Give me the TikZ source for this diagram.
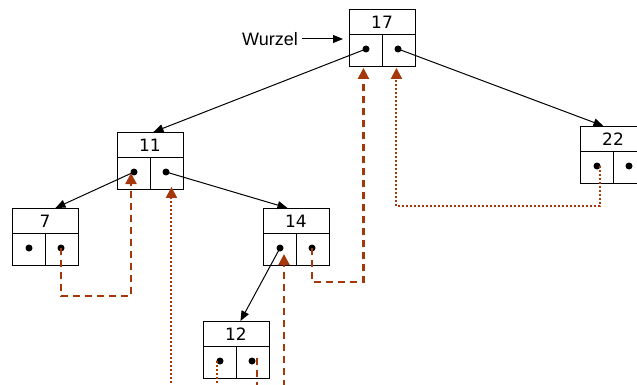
\documentclass[tikz,border=0pt]{standalone}
\usepackage{fontspec}
\setmainfont{DejaVu Sans}
\newfontfamily\labelfont{Liberation Sans}
\usetikzlibrary{arrows.meta,calc}
\definecolor{thread}{RGB}{165,55,10}
\begin{document}
\begin{tikzpicture}[x=1pt,y=-1pt,
  link/.style={line width=1pt,-{Triangle[length=10pt,width=8pt]}},
  thrdash/.style={thread,line width=2.2pt,dash pattern=on 7pt off 5pt,
    -{Triangle[length=11pt,width=11pt]}},
  thrdot/.style={thread,line width=2pt,dash pattern=on 2pt off 2pt,
    -{Triangle[length=11pt,width=11pt]}},
  keyfont/.style={font=\fontsize{17}{17}\selectfont},
  bnode/.pic={
    \node[draw,line width=0.9pt,minimum width=66pt,minimum height=57pt,
          inner sep=0pt,anchor=north west] (-box) at (0,0) {};
    \draw[line width=0.9pt] (0,25) -- (66,25) (33,25) -- (33,57);
    \node[keyfont,inner sep=0pt] (-key) at (33,13) {#1};
    \coordinate (-l) at (17,40);
    \coordinate (-r) at (49,40);
    \fill (-l) circle (3.5pt) (-r) circle (3.5pt);
  }]
\useasboundingbox (0,0) rectangle (637,385);
\clip (0,0) rectangle (637,385);

% tree nodes: key on top, left and right pointer below
\pic (n17) at (349,9)   {bnode=17};
\pic (n11) at (117,132) {bnode=11};
\pic (n22) at (580,126) {bnode=22};
\pic (n7)  at (12,208)  {bnode=7};
\pic (n14) at (263,208) {bnode=14};
\pic (n12) at (203,321) {bnode=12};

% root label
\node[font=\labelfont\fontsize{18}{18}\selectfont,inner sep=0pt,anchor=east]
  (wurzel) at (298,39) {Wurzel};
\draw[link,shorten <=4pt,shorten >=6pt] (wurzel.east) -- (wurzel.east -| n17-box.west);

% child pointers
\draw[link] (n17-l) -- ($(n11-box.north)+(3,0)$);
\draw[link] (n17-r) -- ($(n22-box.north)+(-10,0)$);
\draw[link] (n11-l) -- ($(n7-box.north)+(10,0)$);
\draw[link] (n11-r) -- ($(n14-box.north)+(-9,0)$);
\draw[link] (n14-l) -- ($(n12-box.north)+(4,0)$);

% threads: dashed = right thread, dotted = left thread
\draw[thrdash] (n7-r) -- ++(0,48) -| ($(n11-l)+(-3,1)$);
\draw[thrdot] ($(n12-l)+(-3,0)$) -- ++(0,40) -| ($(n11-box.south)+(21,-3)$);
\draw[thrdash] ($(n12-r)+(5,-3)$) -- ++(0,43) -| ($(n14-l)+(4,6)$);
\draw[thrdash] (n14-r) -- ++(0,34) -| ($(n17-box.south)+(-19,1)$);
\draw[thrdot] ($(n22-l)+(3,0)$) -- ++(0,40) -| ($(n17-box.south)+(14,1)$);
\end{tikzpicture}
\end{document}
